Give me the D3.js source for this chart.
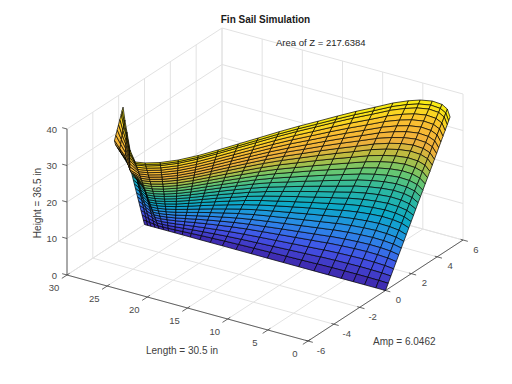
<!DOCTYPE html>
<html>
<head>
<meta charset="utf-8">
<script src="https://cdn.jsdelivr.net/npm/d3@7"></script>
<style>
  html, body { margin: 0; padding: 0; background: #fff; }
  text { font-family: "Liberation Sans", Arial, sans-serif; }
</style>
</head>
<body>
<div id="canvas"></div>
<script>
"use strict"

/* Chart values */
let xTicks = [0, 5, 10, 15, 20, 25, 30];
let yTicks = [-6, -4, -2, 0, 2, 4, 6];
let zTicks = [0, 10, 20, 30, 40];

// heights of the mesh rows
let rowZ = [0, 1.5, 3, 4.5, 6, 7.4, 8.8, 10.2, 11.6, 13, 14.3, 15.6, 16.9, 18.2, 19.5, 20.8,
            22.1, 23.4, 24.7, 26, 27.2, 28.4, 29.6, 30.8, 32, 33.2, 34.4, 35.2, 36];

// mesh columns: x at the foot, x at the head, sideways offset at z = 18, 28 and the head
let footX = [0, 1.2, 2.6, 4, 5.5, 7.1, 8.9, 10.8, 12.7, 14.7, 16.7, 18.6, 20.3, 21.8, 23.1, 24.3,
             25.3, 26.2, 27, 27.6, 28.2, 28.7, 29.2, 29.6, 30];
let headX = [0, 1.3, 2.4, 3.7, 4.9, 5.85, 6.9, 7.9, 9, 10, 11, 12, 13, 14, 14.95, 15.9,
             16.9, 18.05, 19.3, 20.55, 21.55, 23.6, 26.3, 28.1, 30];
let headY = [5, 5.6, 5.87, 5.93, 5.74, 5.4, 4.86, 4.1, 3.32, 2.5, 1.63, 0.79, -0.14, -1.16, -2.11, -3.07,
             -4, -4.83, -5.45, -5.83, -5.98, -5.1, -3.66, -2.7, -1.66];
let y28 = [3.9, 4.36, 4.57, 4.62, 4.47, 4.2, 3.78, 3.19, 2.58, 1.95, 1.27, 0.61, -0.11, -0.9, -1.64, -2.39,
           -3.11, -3.76, -4.24, -4.54, -4.65, -4.4, -3.4, -2.9, -2.36];
let y18 = [2.5, 2.8, 2.94, 2.97, 2.87, 2.7, 2.43, 2.05, 1.66, 1.25, 0.82, 0.4, -0.07, -0.58, -1.06, -1.54,
           -2, -2.42, -2.73, -2.92, -2.99, -2.4, -1.9, -1.4, -1.1];

let parulaZ = [0, 4.5, 9, 13.5, 18, 22, 25, 28, 32, 36];
let parulaStops = ["#3e26a8", "#4352e8", "#2a8ae8", "#0ca8c8", "#2cb8a0", "#6ec86c", "#b8bc40", "#f0b03c", "#fbc030", "#f9f010"];

/* Configuration variables: drawing */
let svgWidth = 512;
let svgHeight = 384;
let tickColor = "#404040";
let gridColor = "#e2e2e2";

let svg = d3.select("#canvas")
    .append("svg")
    .attr("width", svgWidth)
    .attr("height", svgHeight)
    .style("display", "block");

/* Each data axis moves the point by its own screen offset, box origin is x=30, y=-6, z=0 */
let xToSx = d3.scaleLinear().domain([30, 0]).range([0, 241]);
let xToSy = d3.scaleLinear().domain([30, 0]).range([0, 66]);
let yToSx = d3.scaleLinear().domain([-6, 6]).range([0, 155]);
let yToSy = d3.scaleLinear().domain([-6, 6]).range([0, -101]);
let zToSy = d3.scaleLinear().domain([0, 40]).range([0, -146]);

function project(x, y, z) {
  return [67 + xToSx(x) + yToSx(y), 275 + xToSy(x) + yToSy(y) + zToSy(z)];
}

// how close a point is to the viewer, used to paint far cells first
function closeness(x, y, z) {
  return -22630 * x / 30 - 35186 * (y + 6) / 12 + 14111 * z / 40;
}

function drawLine(a, b, color, width) {
  let p = project(a[0], a[1], a[2]);
  let q = project(b[0], b[1], b[2]);
  svg.append("line")
    .attr("x1", p[0]).attr("y1", p[1])
    .attr("x2", q[0]).attr("y2", q[1])
    .attr("stroke", color)
    .attr("stroke-width", width);
}

/* Grid on the floor and the two back walls */
xTicks.forEach(function (t) {
  drawLine([t, -6, 0], [t, 6, 0], gridColor, 1);
  drawLine([t, 6, 0], [t, 6, 40], gridColor, 1);
});
yTicks.forEach(function (t) {
  drawLine([0, t, 0], [30, t, 0], gridColor, 1);
  drawLine([30, t, 0], [30, t, 40], gridColor, 1);
});
zTicks.forEach(function (t) {
  drawLine([30, -6, t], [30, 6, t], gridColor, 1);
  drawLine([30, 6, t], [0, 6, t], gridColor, 1);
});

/* Axis lines and ticks */
drawLine([30, -6, 0], [0, -6, 0], tickColor, 0.8);
drawLine([0, -6, 0], [0, 6, 0], tickColor, 0.8);
drawLine([30, -6, 0], [30, -6, 40], tickColor, 0.8);

function axisLabel(p, dx, dy, label, anchor) {
  svg.append("text")
    .attr("x", p[0] + dx)
    .attr("y", p[1] + dy)
    .attr("text-anchor", anchor)
    .attr("dominant-baseline", "central")
    .attr("font-size", "9.5px")
    .attr("fill", "#4a4a4a")
    .text(label);
}

xTicks.forEach(function (t) {
  drawLine([t, -6, 0], [t, -6.4, 0], tickColor, 0.8);
  drawLine([t, -6, 0], [t, -5.8, 0], tickColor, 0.8);
  axisLabel(project(t, -6, 0), -13, 12, t, "middle");
});
yTicks.forEach(function (t) {
  drawLine([0, t, 0], [-0.6, t, 0], tickColor, 0.8);
  drawLine([0, t, 0], [0.3, t, 0], tickColor, 0.8);
  axisLabel(project(0, t, 0), 13, 9, t, "middle");
});
zTicks.forEach(function (t) {
  drawLine([30, -6, t], [30.6, -6, t], tickColor, 0.8);
  axisLabel(project(30, -6, t), -10, 0, t, "end");
});

/* Surface */
let parula = d3.scaleLinear()
  .domain(parulaZ)
  .range(parulaStops)
  .interpolate(d3.interpolateRgb);

function vertex(col, z) {
  let x = d3.scaleLinear().domain([0, 36]).range([footX[col], headX[col]])(z);
  let y = d3.scaleLinear().domain([0, 18, 28, 36]).range([0, y18[col], y28[col], headY[col]])(z);
  return [x, y, z];
}

let cells = [];
for (let c = 0; c < footX.length - 1; c = c + 1) {
  for (let r = 0; r < rowZ.length - 1; r = r + 1) {
    let corners = [vertex(c, rowZ[r]), vertex(c + 1, rowZ[r]), vertex(c + 1, rowZ[r + 1]), vertex(c, rowZ[r + 1])];
    cells.push({
      corners: corners,
      z: (rowZ[r] + rowZ[r + 1]) / 2,
      depth: d3.mean(corners, function (p) { return closeness(p[0], p[1], p[2]); })
    });
  }
}
cells.sort(function (a, b) { return a.depth - b.depth; });

svg.append("g")
  .selectAll("polygon")
  .data(cells)
  .enter()
  .append("polygon")
  .attr("points", function (d) {
    return d.corners.map(function (p) { return project(p[0], p[1], p[2]).join(","); }).join(" ");
  })
  .attr("fill", function (d) { return parula(d.z); })
  .attr("stroke", "#000")
  .attr("stroke-width", 0.7)
  .attr("stroke-linejoin", "round");

/* Title and labels */
svg.append("text")
  .attr("x", 265.5).attr("y", 22.5)
  .attr("text-anchor", "middle")
  .attr("font-size", "10px")
  .attr("font-weight", "bold")
  .attr("fill", "#1a1a1a")
  .text("Fin Sail Simulation");

svg.append("text")
  .attr("x", 276).attr("y", 46)
  .attr("font-size", "9.5px")
  .attr("fill", "#262626")
  .text("Area of Z = 217.6384");

svg.append("text")
  .attr("x", 146).attr("y", 354)
  .attr("font-size", "10px")
  .attr("fill", "#404040")
  .text("Length = 30.5 in");

svg.append("text")
  .attr("x", 373).attr("y", 345)
  .attr("font-size", "10px")
  .attr("fill", "#404040")
  .text("Amp = 6.0462");

svg.append("text")
  .attr("transform", "translate(41,203) rotate(-90)")
  .attr("text-anchor", "middle")
  .attr("font-size", "10px")
  .attr("fill", "#404040")
  .text("Height = 36.5 in");
</script>
</body>
</html>
